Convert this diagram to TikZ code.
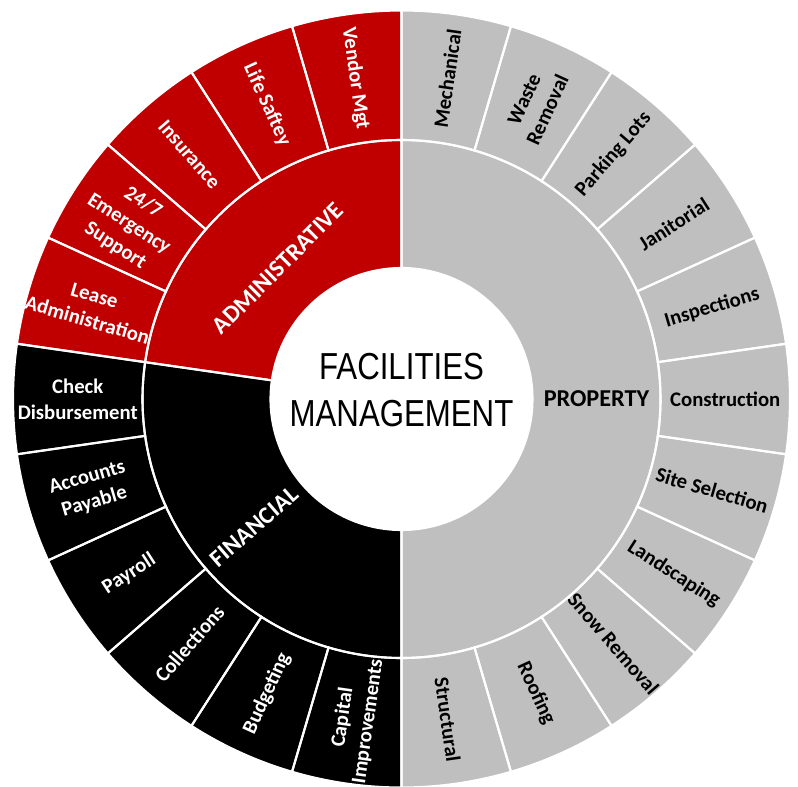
\documentclass[tikz,border=0pt]{standalone}
\usepackage{fontspec}
\setmainfont{Carlito}
\newfontfamily\titlefont[FakeStretch=0.83]{Liberation Sans}
\definecolor{admred}{HTML}{C00000}
\definecolor{propgray}{HTML}{BFBFBF}

\newcommand{\rin}{2.62}
\newcommand{\rmid}{5.18}
\newcommand{\rout}{7.77}
\newcommand{\wedgew}{16.3636}
% ring sector: start angle, end angle, inner radius, outer radius
\newcommand{\sector}[4]{(#1:#3) arc[start angle=#1, end angle=#2, radius=#3] -- (#2:#4) arc[start angle=#2, end angle=#1, radius=#4] -- cycle}

\tikzset{
  seg/.style={draw=white, line width=1.2pt},
  outerlabel/.style={font=\bfseries\fontsize{11.8}{14.6}\selectfont, align=center, inner sep=0pt},
  innerlabel/.style={font=\bfseries\fontsize{13.8}{16}\selectfont, inner sep=0pt},
  titlelabel/.style={font=\titlefont\fontsize{21.4}{27.2}\selectfont, align=center}
}

\begin{document}
\begin{tikzpicture}
\useasboundingbox (-8.03,-7.74) rectangle (7.93,7.98);
% inner ring
\fill[propgray] \sector{90}{-90}{\rin}{\rmid};
\fill[black] \sector{-90}{-188.18}{\rin}{\rmid};
\fill[admred] \sector{-188.18}{-270}{\rin}{\rmid};
\node[innerlabel] (prop) at (0:3.9) {PROPERTY};
\node[innerlabel, text=white, rotate=40.91] (fin) at (-139.09:3.9) {FINANCIAL};
\node[innerlabel, text=white, rotate=45] (adm) at (133.3:3.6) {ADMINISTRATIVE};
% outer ring
\foreach \lbl/\fc/\tc [count=\i from 0] in {Mechanical/propgray/black, {Waste\\Removal}/propgray/black,
    Parking Lots/propgray/black, Janitorial/propgray/black, Inspections/propgray/black,
    Construction/propgray/black, Site Selection/propgray/black, Landscaping/propgray/black,
    Snow Removal/propgray/black, Roofing/propgray/black, Structural/propgray/black,
    {Capital\\Improvements}/black/white, Budgeting/black/white, Collections/black/white,
    Payroll/black/white, {Accounts\\Payable}/black/white, {Check\\Disbursement}/black/white,
    {Lease\\Administration}/admred/white, {24/7\\Emergency\\Support}/admred/white,
    Insurance/admred/white, Life Saftey/admred/white, Vendor Mgt/admred/white}{
  \pgfmathsetmacro\angA{90-\i*\wedgew}
  \pgfmathsetmacro\angB{\angA-\wedgew}
  \pgfmathsetmacro\angM{\angA-\wedgew/2}
  \pgfmathsetmacro\rot{\angM>-90 ? \angM : \angM+180}
  \fill[\fc] \sector{\angA}{\angB}{\rmid}{\rout};
  \begin{scope}
    \clip \sector{\angA}{\angB}{\rmid}{\rout};
    \node[outerlabel, text=\tc, rotate=\rot] (out\i) at (\angM:6.475) {\lbl};
  \end{scope}
}
% white borders
\foreach \i in {0,...,21}{
  \pgfmathsetmacro\angA{90-\i*\wedgew}
  \pgfmathsetmacro\angB{\angA-\wedgew}
  \draw[seg] \sector{\angA}{\angB}{\rmid}{\rout};
}
\draw[seg] \sector{90}{-90}{\rin}{\rmid};
\draw[seg] \sector{-90}{-188.18}{\rin}{\rmid};
\draw[seg] \sector{-188.18}{-270}{\rin}{\rmid};
\fill[white] (0,0) circle[radius=\rin];
\node[titlelabel] (title) at (0,0.18) {FACILITIES\\MANAGEMENT};
\end{tikzpicture}
\end{document}
